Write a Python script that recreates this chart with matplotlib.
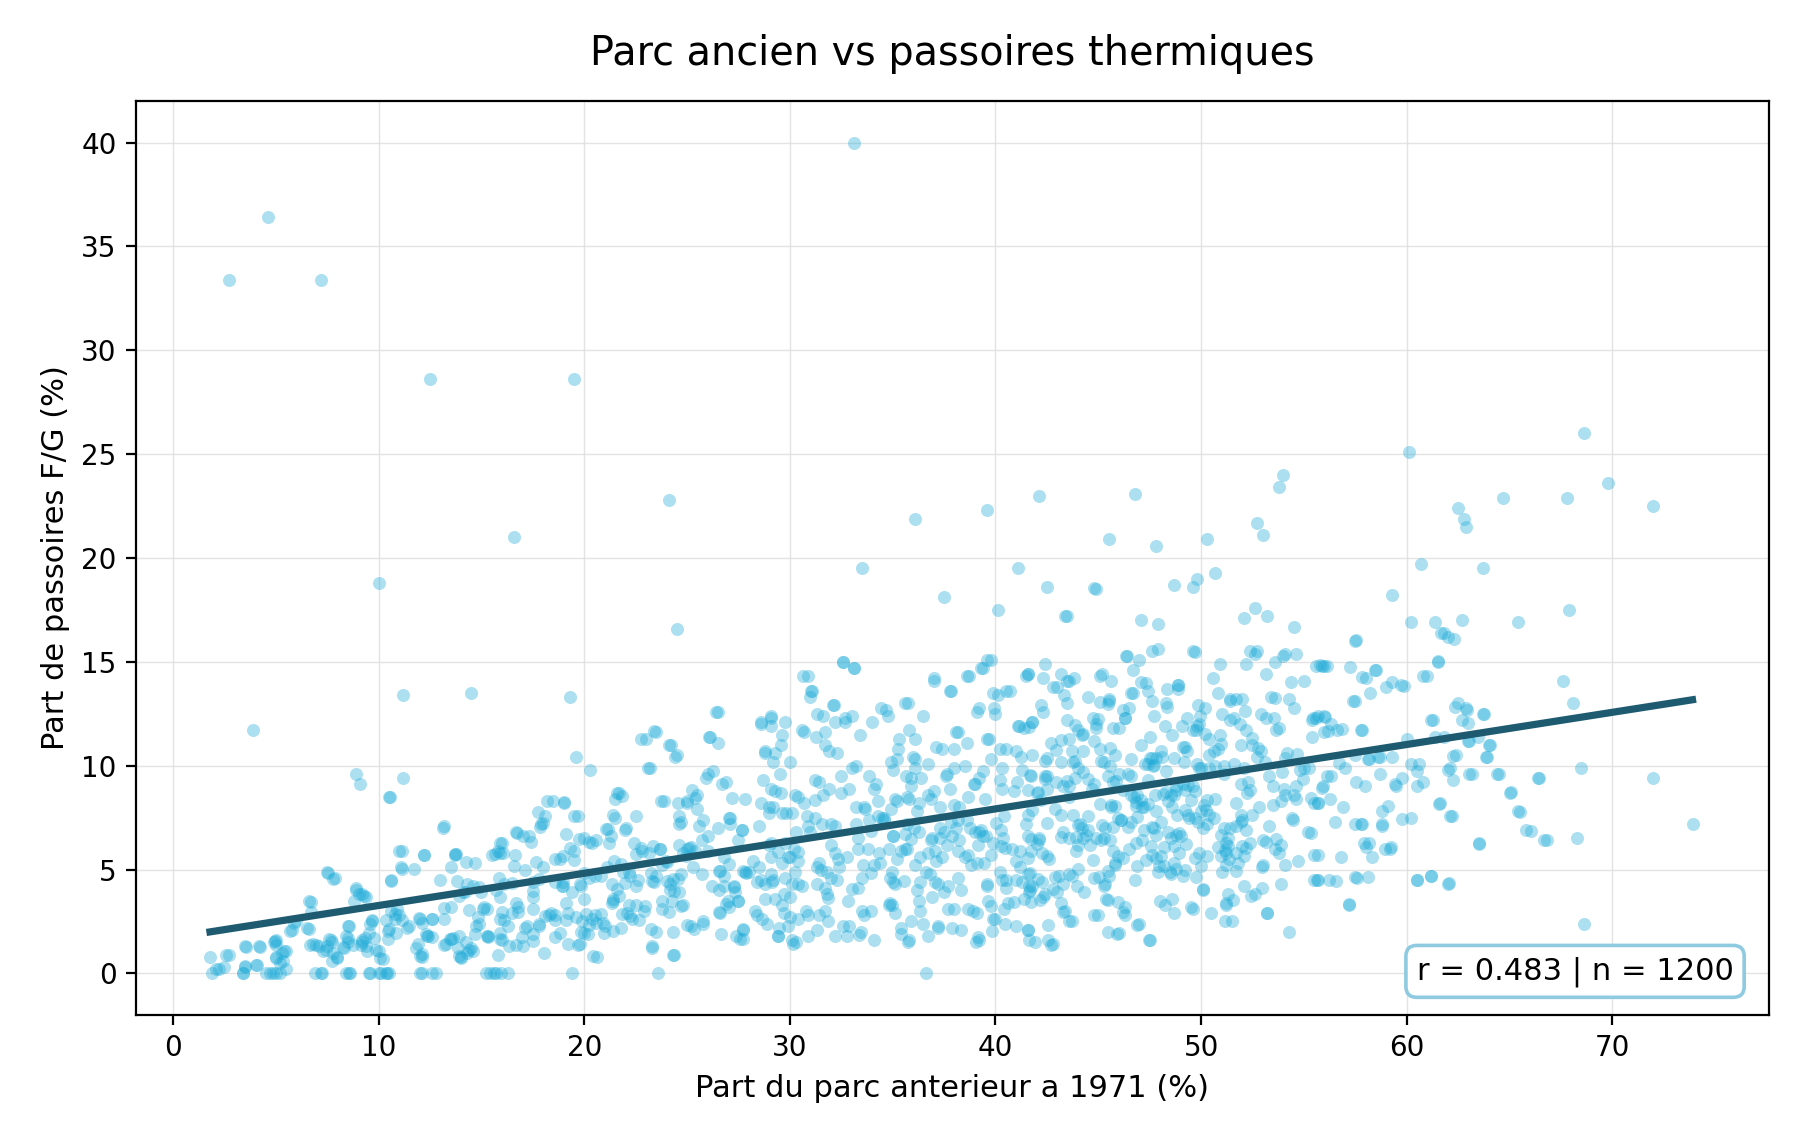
import numpy as np
import matplotlib
matplotlib.use('Agg')
import matplotlib.pyplot as plt

# points : (part parc < 1971 %, part passoires F/G %)
outliers = [
    (33.1, 40.0), (4.6, 36.4), (2.7, 33.4), (7.2, 33.4), (12.5, 28.6), (19.5, 28.6),
    (60.1, 25.1), (68.6, 26.0), (69.8, 23.6), (72.0, 22.5), (64.7, 22.9), (67.8, 22.9),
    (62.5, 22.4), (62.8, 21.9), (62.9, 21.5), (54.0, 24.0), (53.8, 23.4), (46.8, 23.1),
    (42.1, 23.0), (24.1, 22.8), (39.6, 22.3), (36.1, 21.9), (52.7, 21.7), (53.0, 21.1),
    (45.5, 20.9), (50.3, 20.9), (16.6, 21.0), (47.8, 20.6), (60.7, 19.7), (41.1, 19.5),
    (50.7, 19.3), (33.5, 19.5), (63.7, 19.5), (10.0, 18.8), (49.8, 19.0), (49.6, 18.6),
    (48.7, 18.7), (42.5, 18.6), (44.9, 18.5), (37.5, 18.1), (59.3, 18.2), (67.9, 17.5),
    (40.1, 17.5), (43.4, 17.2), (43.5, 17.2), (52.6, 17.6), (53.2, 17.2), (52.1, 17.1),
    (47.1, 17.0), (47.9, 16.8), (54.5, 16.7), (24.5, 16.6), (65.4, 16.9), (60.2, 16.9),
    (61.4, 16.9), (62.7, 17.0), (61.8, 16.4), (62.3, 16.1), (62.0, 16.2), (57.5, 16.0),
    (72.0, 9.4), (73.9, 7.2), (68.6, 2.4), (68.5, 9.9), (67.6, 14.1), (68.1, 13.0),
    (3.9, 11.7), (11.2, 13.4), (14.5, 13.5), (19.3, 13.3),
]

band_00_20 = [
    (1.8, 0.8), (1.9, 0.0), (2.5, 0.3), (2.7, 0.9), (3.4, 0.0), (3.5, 0.3), (3.5, 1.3),
    (4.1, 0.4), (4.2, 1.3), (4.5, 0.0), (4.7, 0.0), (4.9, 1.5), (5.0, 1.6), (5.0, 0.8),
    (5.2, 0.5), (5.3, 1.0), (5.5, 0.2), (5.5, 1.1), (5.0, 0.0), (5.8, 2.1), (6.0, 2.5),
    (6.6, 3.5), (6.5, 2.2), (6.8, 1.4), (6.9, 0.0), (7.1, 1.3), (7.2, 0.0), (7.5, 1.3),
    (7.5, 4.9), (7.7, 1.6), (7.8, 1.0), (7.9, 4.6), (8.0, 0.8), (8.3, 1.2), (8.4, 0.0),
    (8.5, 1.7), (8.6, 0.0), (8.5, 2.3), (8.8, 3.5), (8.9, 4.0), (8.9, 9.6), (9.1, 9.1),
    (9.2, 1.6), (9.2, 3.8), (9.4, 1.3), (9.6, 2.4), (9.6, 0.0), (9.7, 2.5), (9.8, 1.7),
    (10.0, 1.1), (10.0, 0.0), (10.2, 0.7), (9.4, 3.7), (10.4, 0.0), (10.5, 0.0), (10.5, 8.5),
    (10.6, 4.5), (10.8, 2.6), (10.9, 3.1), (11.0, 5.9), (11.1, 5.1), (11.2, 9.4), (11.0, 2.8),
    (11.5, 2.3), (11.8, 1.2), (12.0, 2.6), (12.0, 0.0), (12.1, 0.8), (12.2, 5.7), (12.4, 1.8),
    (12.6, 2.6), (12.6, 0.0), (12.8, 0.0), (13.0, 4.5), (13.2, 7.1), (13.3, 1.4), (13.5, 3.2),
    (13.5, 5.1), (13.7, 5.7), (13.9, 1.8), (14.0, 0.8), (14.2, 3.9), (14.3, 1.0), (14.3, 4.3),
    (14.5, 1.2), (14.7, 1.9), (14.7, 5.3), (14.9, 2.4), (15.0, 3.9), (15.1, 3.1), (15.2, 0.0),
    (15.3, 1.8), (15.5, 5.7), (15.6, 0.0), (15.7, 4.0), (15.8, 5.9), (15.9, 2.6), (16.0, 1.6),
    (16.0, 6.3), (16.1, 4.3), (16.3, 0.0), (16.5, 2.9), (16.7, 6.8), (16.8, 3.2), (17.0, 1.3),
    (17.1, 5.0), (17.3, 6.6), (17.5, 1.9), (17.5, 3.7), (17.8, 2.4), (17.9, 7.2), (18.0, 5.1),
    (18.1, 7.6), (18.3, 2.8), (18.5, 8.3), (18.6, 2.8), (18.8, 5.5), (18.9, 4.2), (19.0, 8.2),
    (19.1, 6.7), (19.2, 2.9), (19.4, 0.0), (19.5, 5.9), (19.6, 10.4), (19.7, 7.6), (19.8, 1.4),
    (19.8, 4.3), (19.9, 2.5), (20.0, 6.5), (20.0, 3.6),
]

band_20_40 = [
    (20.2, 1.9), (20.3, 9.8), (20.4, 6.3), (20.5, 2.8), (20.6, 0.8), (20.8, 4.7), (21.0, 2.3),
    (21.1, 5.1), (21.3, 6.6), (21.4, 3.6), (21.5, 7.5), (21.6, 8.7), (21.8, 2.2), (21.9, 4.9),
    (22.0, 6.9), (22.2, 3.3), (22.3, 2.6), (22.5, 7.6), (22.6, 4.5), (22.8, 5.9), (22.9, 3.0),
    (23.0, 11.3), (23.2, 9.9), (23.3, 1.3), (23.4, 4.4), (23.5, 11.6), (23.6, 0.0), (23.7, 6.0),
    (23.8, 3.5), (23.9, 8.3), (24.0, 5.4), (24.2, 11.0), (24.3, 2.0), (24.3, 0.9), (24.5, 10.5),
    (24.6, 7.6), (24.7, 4.8), (24.8, 3.3), (25.0, 8.2), (25.0, 6.0), (25.2, 2.3), (25.3, 5.1),
    (25.5, 8.6), (25.6, 7.1), (25.8, 2.4), (26.0, 9.6), (26.1, 11.4), (26.2, 4.2), (26.4, 12.6),
    (26.5, 7.0), (26.6, 2.9), (26.8, 5.6), (26.9, 9.2), (27.0, 3.5), (27.1, 7.5), (27.3, 4.2),
    (27.4, 1.8), (27.5, 6.4), (27.7, 2.1), (27.8, 8.4), (28.0, 4.9), (28.2, 5.4), (28.3, 3.0),
    (28.5, 7.1), (28.6, 12.0), (28.8, 10.6), (28.9, 2.4), (29.0, 6.2), (29.1, 12.3), (29.2, 4.5),
    (29.3, 8.8), (29.4, 1.8), (29.5, 9.6), (29.6, 11.5), (29.7, 3.8), (29.8, 7.7), (29.9, 5.6),
    (30.0, 2.7), (30.0, 10.2), (30.2, 6.0), (30.3, 1.5), (30.4, 8.5), (30.6, 4.2), (30.7, 11.6),
    (30.8, 3.0), (30.9, 14.3), (31.0, 6.8), (31.1, 13.6), (31.2, 7.5), (31.3, 2.1), (31.4, 9.2),
    (31.5, 5.0), (31.6, 12.4), (31.8, 3.8), (31.9, 10.7), (32.0, 6.2), (32.1, 12.9), (32.2, 1.8),
    (32.3, 4.5), (32.5, 8.7), (32.6, 15.0), (32.7, 12.3), (32.8, 5.6), (32.9, 2.3), (33.0, 9.9),
    (33.1, 14.7), (33.2, 7.2), (33.3, 4.1), (33.4, 11.5), (33.5, 3.0), (33.6, 8.0), (33.8, 6.0),
    (34.0, 12.1), (34.1, 1.6), (34.2, 9.1), (34.4, 5.3), (34.5, 7.5), (34.7, 12.7), (34.8, 3.3),
    (34.9, 10.2), (35.0, 6.6), (35.1, 4.3), (35.2, 8.3), (35.3, 11.3), (35.4, 2.2), (35.6, 13.0),
    (35.7, 6.0), (35.8, 1.6), (35.9, 9.0), (36.0, 10.4), (36.1, 5.2), (36.2, 7.8), (36.3, 3.5),
    (36.5, 12.4), (36.6, 0.0), (36.7, 8.6), (36.8, 4.8), (36.9, 6.5), (37.0, 14.1), (37.1, 10.9),
    (37.2, 2.3), (37.3, 7.0), (37.4, 5.6), (37.6, 9.5), (37.7, 3.1), (37.8, 13.6), (37.9, 6.6),
    (38.0, 8.1), (38.1, 11.6), (38.2, 4.6), (38.3, 2.1), (38.5, 10.0), (38.6, 7.4), (38.7, 14.3),
    (38.8, 5.2), (38.9, 3.0), (39.0, 9.1), (39.1, 12.6), (39.2, 1.6), (39.3, 6.9), (39.4, 14.7),
    (39.5, 8.4), (39.6, 4.2), (39.7, 11.3), (39.8, 15.1), (39.9, 6.3), (40.0, 2.6),
]

band_40_75 = [
    (40.1, 13.4), (40.2, 9.3), (40.3, 4.5), (40.4, 7.6), (40.5, 10.8), (40.6, 3.4), (40.7, 13.6),
    (40.8, 6.0), (40.9, 8.8), (41.0, 2.3), (41.1, 11.9), (41.2, 5.1), (41.3, 9.8), (41.5, 7.2),
    (41.6, 14.4), (41.7, 4.0), (41.8, 10.5), (41.9, 1.5), (42.0, 8.7), (42.1, 6.4), (42.2, 12.9),
    (42.3, 3.7), (42.4, 14.9), (42.5, 9.5), (42.6, 5.5), (42.7, 11.1), (42.8, 1.4), (42.9, 7.9),
    (43.0, 13.8), (43.1, 4.7), (43.2, 10.2), (43.3, 6.8), (43.4, 3.0), (43.5, 12.2), (43.6, 8.5),
    (43.7, 2.5), (43.8, 14.2), (43.9, 5.9), (44.0, 9.9), (44.1, 7.2), (44.2, 11.5), (44.3, 3.9),
    (44.5, 13.3), (44.6, 6.2), (44.7, 8.9), (44.8, 4.6), (44.9, 12.0), (45.0, 2.8), (45.1, 10.8),
    (45.2, 14.4), (45.3, 6.5), (45.4, 3.6), (45.5, 13.1), (45.6, 8.1), (45.7, 11.8), (45.8, 5.3),
    (45.9, 1.9), (46.0, 9.6), (46.1, 7.4), (46.2, 12.7), (46.3, 3.2), (46.4, 15.3), (46.5, 6.0),
    (46.6, 10.3), (46.7, 13.5), (46.8, 4.5), (46.9, 8.6), (47.0, 2.4), (47.1, 11.0), (47.2, 6.9),
    (47.3, 14.0), (47.4, 9.3), (47.5, 1.6), (47.6, 5.7), (47.7, 12.4), (47.8, 7.8), (47.9, 15.6),
    (48.0, 3.5), (48.1, 10.4), (48.2, 6.1), (48.3, 13.0), (48.4, 8.3), (48.5, 4.9), (48.6, 11.5),
    (48.7, 2.9), (48.8, 9.0), (48.9, 13.9), (49.0, 6.6), (49.1, 10.9), (49.2, 5.0), (49.3, 12.3),
    (49.4, 7.5), (49.5, 3.2), (49.6, 15.5), (49.7, 8.8), (49.8, 11.9), (49.9, 5.8), (50.0, 9.9),
    (50.1, 4.0), (50.2, 12.8), (50.3, 7.2), (50.4, 10.5), (50.5, 2.9), (50.6, 14.2), (50.7, 8.4),
    (50.8, 6.1), (50.9, 11.5), (51.0, 4.9), (51.1, 7.0), (51.1, 9.6), (51.2, 5.8), (51.2, 3.4),
    (51.3, 6.5), (51.4, 13.2), (51.5, 2.5), (51.6, 10.1), (51.7, 8.2), (51.8, 5.3), (51.9, 12.0),
    (52.0, 7.4), (52.1, 4.2), (52.2, 14.9), (52.3, 9.2), (52.4, 6.3), (52.5, 11.0), (52.6, 3.8),
    (52.7, 15.5), (52.8, 8.0), (52.9, 12.5), (53.0, 5.2), (53.1, 10.2), (53.2, 2.9), (53.3, 7.1),
    (53.4, 13.3), (53.5, 9.0), (53.6, 6.0), (53.8, 11.8), (53.9, 4.3), (54.0, 15.3), (54.1, 8.6),
    (54.2, 10.6), (54.3, 2.0), (54.4, 7.5), (54.5, 12.8), (54.7, 5.4), (54.8, 9.8), (55.0, 14.1),
    (55.2, 6.8), (55.4, 11.4), (55.5, 4.5), (55.6, 12.3), (55.7, 8.2), (55.9, 14.8), (56.1, 9.5),
    (56.2, 4.5), (56.3, 12.0), (56.5, 7.3), (56.6, 11.7), (56.8, 5.6), (57.0, 9.9), (57.2, 3.3),
    (57.4, 13.1), (57.5, 7.2), (57.6, 4.6), (57.8, 11.7), (57.9, 6.3), (58.0, 14.2), (58.1, 10.3),
    (58.3, 5.6), (58.5, 14.6), (58.7, 9.6), (58.8, 7.8), (59.0, 13.8), (59.2, 6.0), (59.3, 10.4),
    (59.5, 9.0), (59.7, 13.9), (60.0, 11.3), (60.2, 7.5), (60.5, 4.5), (60.6, 10.1), (60.8, 9.2),
    (61.0, 14.3), (61.2, 4.7), (61.3, 12.2), (61.5, 15.0), (61.6, 8.2), (61.8, 11.4), (62.0, 4.3),
    (62.1, 9.9), (62.2, 7.6), (62.4, 10.5), (62.5, 13.0), (62.7, 12.2), (62.9, 12.8), (63.0, 11.2),
    (63.2, 9.6), (63.5, 6.3), (63.7, 12.5), (63.9, 10.4), (64.0, 11.0), (64.5, 9.6), (65.0, 8.7),
    (65.4, 7.8), (65.8, 6.9), (66.4, 9.4), (66.7, 6.4), (68.3, 6.5),
]

# lecture fine, zone 0-14
zone_a = [
    (10.55, 8.5), (13.15, 7.0), (11.15, 5.9), (12.2, 5.7), (11.7, 5.05), (11.15, 5.05),
    (13.7, 5.75), (7.55, 4.85), (7.8, 4.55), (10.6, 4.45), (8.9, 4.1), (9.05, 3.8), (9.3, 3.75),
    (13.2, 3.15), (6.7, 3.45), (6.7, 2.95), (5.7, 2.05), (5.9, 2.45), (6.6, 2.15), (8.55, 2.3),
    (10.6, 3.0), (10.8, 2.85), (9.7, 2.55), (10.35, 2.55), (10.5, 2.15), (11.15, 2.55),
    (11.4, 2.2), (11.95, 2.65), (12.1, 2.45), (12.6, 2.6), (12.3, 1.9), (12.35, 1.8), (12.6, 1.75),
    (11.9, 1.4), (12.1, 0.95), (12.0, 0.85), (13.2, 1.35), (13.5, 1.65), (13.85, 1.2),
    (10.45, 2.05), (10.85, 1.95), (10.45, 1.65), (9.55, 1.95), (9.35, 1.7), (9.15, 1.35),
    (9.2, 1.5), (8.75, 1.35), (8.5, 1.5), (8.4, 1.8), (8.25, 1.25), (9.45, 1.1), (9.85, 1.15),
    (10.05, 0.75), (7.6, 1.65), (7.75, 1.5), (7.45, 1.15), (7.3, 1.1), (8.0, 0.75), (7.75, 0.6),
    (6.65, 1.35), (6.95, 1.35), (4.95, 1.55), (5.0, 1.35), (5.4, 1.1), (5.0, 0.75), (5.35, 0.6),
    (3.55, 1.25), (4.25, 1.25), (3.5, 0.35), (4.05, 0.4), (2.6, 0.9), (2.25, 0.2), (2.1, 0.2),
    (3.4, 0.0), (4.85, 0.0), (5.2, 0.0), (7.25, 0.0), (8.55, 0.0), (9.55, 0.0), (10.1, 0.0),
    (10.35, 0.0), (12.1, 0.0), (13.2, 2.6), (13.9, 0.85),
]

# zone 13-28
zone_b = [
    (22.75, 11.3), (23.4, 11.65), (24.1, 11.0), (24.4, 10.4), (23.1, 9.9), (26.05, 11.4),
    (26.5, 11.1), (26.5, 12.6), (25.9, 9.4), (26.25, 9.75), (26.7, 9.1), (27.2, 8.45),
    (25.25, 8.85), (25.4, 8.45), (25.0, 8.3), (24.55, 8.2), (23.75, 8.3), (25.5, 7.9),
    (24.6, 7.2), (24.7, 7.3), (25.8, 7.4), (26.0, 6.6), (25.75, 6.4), (27.05, 7.5), (27.1, 7.2),
    (27.65, 6.9), (21.7, 8.7), (21.5, 8.4), (21.85, 8.55), (21.4, 7.65), (21.15, 6.95),
    (22.05, 7.0), (18.2, 8.3), (19.0, 8.25), (19.5, 7.6), (17.75, 7.75), (18.0, 7.25),
    (17.85, 7.05), (16.75, 6.75), (17.0, 6.6), (17.4, 6.35), (15.9, 6.3), (15.65, 5.75),
    (15.9, 5.8), (16.05, 5.8), (16.65, 5.7), (13.75, 5.75), (14.25, 5.35), (16.6, 5.15),
    (17.65, 5.35), (13.8, 4.45), (13.9, 3.75), (14.1, 3.9), (14.6, 4.2), (14.9, 4.15),
    (15.85, 4.6), (15.9, 3.7), (16.5, 4.35), (16.7, 3.4), (16.8, 2.95), (17.1, 2.2),
    (14.4, 3.05), (14.85, 2.7), (14.75, 2.3), (15.25, 3.1), (16.0, 2.95), (16.1, 2.55),
    (16.3, 2.3), (15.9, 1.95), (15.9, 1.65), (16.35, 1.3), (16.7, 1.35), (16.95, 1.75),
    (15.25, 1.8), (15.3, 1.75), (14.25, 1.5), (14.4, 1.15), (14.0, 0.75), (14.6, 1.1),
    (15.8, 0.9), (15.4, 0.0), (15.7, 0.0), (15.95, 0.0), (17.2, 2.3), (17.5, 1.55), (17.8, 2.3),
    (18.05, 1.0), (17.5, 3.1), (17.5, 3.95), (18.1, 2.75), (18.4, 2.9), (18.6, 2.55),
    (18.6, 1.75), (18.8, 1.95), (19.1, 2.55), (19.2, 1.4), (19.6, 2.7), (19.7, 1.35),
    (19.85, 2.0), (20.0, 1.95), (20.1, 2.85), (20.25, 2.35), (20.4, 2.6), (20.55, 2.45),
    (20.45, 0.85), (20.8, 2.85), (20.9, 2.45), (20.95, 1.95), (21.4, 2.05), (21.35, 3.4),
    (21.4, 3.5), (21.7, 3.75), (21.85, 2.85), (22.1, 2.9), (22.25, 2.75), (22.5, 3.3),
    (22.65, 2.55), (22.95, 3.25), (23.25, 2.15), (23.5, 2.0), (23.3, 1.2), (24.35, 0.9),
    (23.8, 3.1), (24.1, 2.95), (24.15, 4.0), (24.25, 3.5), (24.7, 3.25), (25.0, 2.35),
    (25.35, 2.15), (25.8, 2.5), (26.65, 1.9), (27.6, 1.65), (27.7, 2.15), (26.55, 2.95),
    (26.9, 3.35), (27.05, 3.2), (27.5, 3.5), (26.55, 4.0), (26.8, 4.2), (27.3, 4.15),
    (27.35, 3.9), (27.7, 4.95), (27.85, 4.85), (26.55, 4.95), (26.6, 4.95), (26.8, 4.7),
    (27.05, 5.25), (25.75, 4.8), (26.0, 5.9), (25.4, 5.9), (25.1, 6.05), (24.05, 4.45),
    (24.3, 4.55), (24.55, 4.55), (24.6, 3.9), (24.35, 3.95), (23.25, 4.85), (23.3, 4.45),
    (23.5, 4.7), (23.8, 5.2), (24.15, 4.3), (22.2, 4.9), (22.25, 4.7), (22.5, 4.2),
    (22.75, 6.05), (22.4, 6.3), (22.5, 5.75), (21.05, 6.95), (21.2, 6.3), (21.45, 5.4),
    (21.8, 5.25), (22.0, 4.35), (21.6, 4.05), (21.35, 4.3), (20.55, 6.4), (20.25, 6.35),
    (19.75, 6.45), (20.0, 4.85), (20.25, 4.6), (20.5, 4.7), (19.85, 4.2), (19.4, 3.9),
    (19.1, 3.4), (18.95, 4.2), (18.6, 5.5), (18.95, 5.65), (19.3, 6.05), (19.5, 5.45),
    (18.6, 4.4), (18.95, 4.4), (17.8, 4.55), (17.5, 4.4), (15.15, 3.2), (13.45, 1.65),
    (13.6, 1.7), (23.15, 5.8), (23.35, 6.15), (23.7, 6.0), (24.05, 5.35), (24.6, 6.2),
    (25.2, 6.1), (24.8, 5.8), (24.95, 5.65),
]

# zone 27-42
zone_c = [
    (32.6, 15.0), (33.1, 14.7), (30.65, 14.3), (31.0, 13.3), (31.05, 13.6), (32.15, 12.9),
    (31.3, 12.5), (33.0, 12.4), (32.2, 12.1), (32.7, 12.1), (30.6, 11.7), (31.25, 11.4),
    (31.7, 11.6), (31.7, 11.0), (29.55, 11.0), (28.8, 10.7), (29.3, 10.6), (29.2, 10.2),
    (32.3, 10.6), (28.6, 12.1), (29.1, 12.4), (29.75, 12.1), (29.1, 11.9), (28.7, 9.3),
    (29.1, 8.9), (29.55, 8.7), (28.6, 8.2), (29.0, 8.0), (29.2, 8.0), (29.0, 7.7), (29.6, 7.7),
    (30.1, 7.7), (30.25, 8.6), (30.7, 8.2), (30.85, 7.6), (31.2, 8.35), (31.6, 8.6), (31.9, 8.9),
    (31.2, 9.3), (32.5, 9.5), (32.9, 8.9), (33.2, 10.0), (33.85, 9.5), (34.1, 8.9), (33.2, 8.0),
    (33.65, 7.9), (34.3, 8.3), (34.6, 7.5), (34.9, 7.9), (35.1, 8.4), (34.45, 12.8),
    (34.75, 12.4), (35.75, 13.0), (35.8, 11.7), (36.1, 11.3), (35.25, 10.8), (35.2, 10.3),
    (35.0, 9.8), (35.65, 9.5), (36.1, 10.3), (36.1, 9.9), (35.9, 9.4), (36.4, 9.4), (36.7, 10.1),
    (37.0, 14.2), (37.85, 13.6), (37.4, 10.8), (38.0, 10.8), (38.2, 11.6), (38.6, 11.1),
    (37.65, 9.6), (38.0, 9.9), (37.8, 8.9), (37.0, 8.8), (35.7, 8.5), (35.8, 8.4), (36.3, 8.2),
    (36.85, 8.4), (37.3, 8.0), (38.25, 8.0), (38.65, 8.5), (38.95, 9.1), (39.2, 9.4),
    (39.4, 9.75), (39.3, 14.7), (38.6, 14.3), (39.6, 15.1), (39.9, 13.5), (40.5, 13.6),
    (39.2, 12.8), (39.95, 12.8), (40.0, 12.5), (39.6, 11.3), (40.2, 10.8), (39.8, 10.3),
    (40.3, 9.9), (40.3, 8.9), (41.0, 10.7), (41.25, 10.4), (41.05, 9.2), (41.5, 14.3),
    (41.15, 11.9), (41.4, 11.8), (41.8, 12.1), (41.7, 9.55), (27.65, 6.9), (27.5, 3.5),
    (27.7, 1.65), (27.8, 4.9), (28.5, 5.1), (28.6, 4.5), (29.1, 4.8), (29.15, 4.4), (28.4, 4.4),
    (28.8, 4.3), (28.8, 3.6), (29.3, 3.6), (29.6, 3.3), (29.7, 2.9), (28.4, 2.8), (28.65, 2.6),
    (29.45, 2.2), (29.4, 1.8), (29.9, 2.3), (30.1, 1.6), (30.15, 1.4), (30.4, 2.6), (30.9, 1.8),
    (30.9, 2.8), (31.4, 2.8), (31.7, 3.0), (31.85, 2.5), (30.0, 3.7), (30.1, 4.3), (30.25, 4.9),
    (30.4, 4.3), (29.75, 4.6), (30.0, 5.6), (30.4, 5.85), (30.4, 5.4), (31.3, 5.1), (31.4, 5.3),
    (31.8, 4.9), (32.0, 4.6), (31.3, 4.3), (31.7, 4.1), (31.85, 3.65), (32.2, 5.8), (32.35, 5.5),
    (32.4, 5.1), (32.85, 3.5), (33.0, 4.05), (32.6, 2.3), (32.8, 1.8), (33.35, 1.85),
    (33.45, 2.0), (33.6, 2.8), (33.95, 3.0), (33.3, 6.0), (33.3, 6.5), (33.55, 5.2),
    (33.95, 4.85), (34.1, 5.2), (33.5, 4.6), (34.35, 5.8), (34.8, 6.0), (34.95, 4.9), (35.0, 4.4),
    (34.85, 4.6), (34.85, 3.4), (34.95, 3.3), (35.1, 2.9), (35.55, 4.45), (35.0, 6.6),
    (35.2, 5.5), (35.4, 5.9), (35.6, 6.0), (35.9, 6.45), (35.9, 2.5), (36.5, 2.4), (36.7, 1.8),
    (35.4, 1.9), (35.75, 1.5), (36.35, 3.0), (36.2, 4.0), (36.6, 4.9), (36.35, 4.4), (37.05, 4.4),
    (37.2, 4.3), (36.9, 3.7), (37.5, 3.9), (37.7, 4.2), (38.3, 4.0), (37.2, 2.2), (37.9, 2.2),
    (38.0, 3.1), (38.65, 3.1), (39.1, 2.9), (39.05, 1.5), (39.15, 1.75), (39.6, 4.3),
    (39.65, 3.5), (39.8, 3.25), (39.9, 2.6), (39.85, 2.05), (40.45, 2.4), (40.4, 3.1),
    (40.2, 4.9), (40.5, 4.5), (40.5, 4.1), (40.9, 3.45), (41.0, 4.5), (41.3, 4.4), (41.65, 4.2),
    (41.7, 4.85), (41.6, 2.1), (41.65, 1.6), (41.4, 3.6), (36.35, 5.6), (36.7, 5.8), (37.05, 5.9),
    (37.1, 5.4), (36.85, 6.4), (37.3, 6.5), (37.65, 6.2), (37.5, 6.8), (38.1, 7.0), (38.25, 6.4),
    (38.5, 5.6), (38.65, 5.7), (38.2, 5.9), (39.1, 5.3), (39.45, 5.3), (39.15, 6.2), (39.4, 6.6),
    (39.8, 5.7), (40.35, 6.5), (40.25, 6.15), (40.05, 7.25), (40.25, 6.9), (40.45, 6.05),
    (41.0, 5.4), (41.2, 5.9), (41.6, 6.6), (41.75, 6.45), (31.55, 7.2), (32.0, 7.2), (32.2, 7.1),
    (30.9, 7.1), (30.3, 6.8), (29.75, 6.3), (29.4, 5.85), (29.1, 6.3), (29.1, 5.6), (29.6, 5.3),
    (33.85, 7.4), (34.3, 7.6), (34.6, 7.4), (33.95, 6.85), (35.7, 7.2), (36.05, 7.0),
    (36.3, 6.8), (35.6, 6.7), (37.85, 7.3), (38.2, 7.4), (38.75, 7.0), (39.0, 6.8), (39.2, 6.8),
    (39.55, 6.6),
]

# zone 41-56
zone_d = [
    (44.8, 18.55), (46.35, 15.3), (47.0, 15.1), (47.6, 15.5), (46.7, 14.6), (49.7, 15.45),
    (50.9, 14.9), (52.4, 15.5), (52.6, 15.4), (53.6, 15.0), (54.1, 15.4), (54.6, 15.4),
    (55.6, 14.8), (56.0, 14.8), (53.15, 14.4), (41.6, 14.4), (42.3, 14.2), (42.8, 13.8),
    (43.2, 14.4), (43.5, 14.1), (43.6, 14.1), (43.35, 13.4), (43.5, 13.0), (45.1, 14.3),
    (45.6, 14.1), (45.1, 13.05), (45.5, 13.2), (45.45, 12.95), (47.1, 14.05), (47.4, 13.6),
    (47.6, 13.1), (46.6, 13.5), (46.5, 12.8), (46.3, 12.3), (48.35, 13.7), (48.9, 13.9),
    (48.9, 13.7), (48.35, 12.85), (49.85, 12.9), (50.8, 13.5), (51.4, 13.1), (51.7, 13.2),
    (52.0, 13.2), (52.15, 12.65), (51.6, 12.3), (51.0, 12.5), (49.95, 12.4), (49.9, 12.0),
    (49.6, 11.7), (49.75, 11.7), (50.2, 11.55), (50.4, 11.3), (50.65, 10.7), (50.8, 10.8),
    (50.95, 11.05), (49.2, 10.9), (49.3, 10.7), (49.05, 11.9), (48.25, 11.9), (47.5, 11.4),
    (48.05, 10.7), (47.6, 10.35), (47.4, 10.1), (47.7, 10.05), (48.3, 9.75), (48.7, 10.35),
    (49.15, 10.2), (49.8, 10.1), (49.9, 9.9), (50.4, 9.9), (50.7, 10.0), (51.1, 10.0),
    (51.95, 11.0), (52.2, 11.7), (52.5, 11.35), (52.75, 10.85), (52.9, 10.7), (52.7, 10.4),
    (51.4, 12.2), (53.6, 13.25), (54.3, 13.2), (54.35, 14.05), (53.15, 12.3), (53.55, 12.3),
    (53.65, 11.7), (54.65, 10.55), (54.1, 10.35), (55.0, 9.9), (55.25, 9.9), (55.4, 12.2),
    (55.45, 12.3), (56.0, 12.4), (56.0, 11.6), (53.3, 9.5), (53.95, 9.7), (52.1, 9.9),
    (51.95, 9.1), (52.25, 8.7), (52.4, 8.85), (54.05, 8.9), (54.6, 9.0), (54.95, 9.35),
    (54.6, 8.4), (54.5, 8.6), (53.5, 8.1), (53.9, 8.3), (55.35, 8.45), (55.5, 8.2), (55.9, 8.95),
    (52.5, 7.65), (54.45, 7.4), (55.35, 6.75), (55.5, 5.7), (55.65, 4.5), (54.1, 5.2),
    (53.8, 5.8), (53.65, 6.45), (53.9, 6.2), (53.0, 6.4), (53.15, 6.35), (52.95, 5.1),
    (52.95, 4.1), (52.45, 3.75), (53.2, 2.9), (51.2, 3.3), (51.55, 3.55), (51.3, 3.8),
    (51.15, 2.5), (50.1, 4.05), (49.6, 3.1), (48.25, 3.3), (48.6, 3.6), (50.95, 6.65),
    (51.2, 6.3), (51.15, 5.95), (51.3, 6.15), (50.95, 5.65), (51.35, 5.5), (51.2, 5.2),
    (51.7, 4.95), (52.0, 6.15), (52.1, 5.65), (51.7, 5.8), (52.2, 6.05), (51.95, 7.65),
    (51.7, 7.1), (51.4, 7.0), (51.95, 7.3), (52.2, 6.9), (50.4, 7.65), (50.65, 7.5),
    (50.25, 7.85), (50.15, 8.1), (50.3, 8.35), (50.0, 7.8), (49.85, 7.3), (50.1, 7.0), (49.7, 7.5),
    (49.2, 7.85), (49.35, 7.65), (48.85, 7.65), (49.5, 8.35), (48.6, 8.0), (48.05, 7.3),
    (47.7, 7.0), (47.6, 7.05), (47.8, 6.65), (48.4, 6.8), (48.55, 6.5), (48.8, 6.65),
    (48.95, 6.75), (48.7, 6.15), (49.25, 6.25), (48.95, 5.8), (48.05, 5.65), (47.8, 5.55),
    (47.95, 5.15), (47.9, 4.9), (48.2, 5.15), (48.55, 4.8), (48.8, 5.05), (49.1, 4.7),
    (48.7, 5.3), (49.7, 5.55), (50.0, 5.15), (50.3, 5.65), (49.75, 4.65), (47.3, 5.45),
    (46.9, 5.15), (47.15, 6.4), (46.85, 6.3), (47.55, 6.15), (47.4, 8.15), (46.85, 8.05),
    (47.2, 8.0), (46.9, 7.55), (46.6, 7.3), (46.45, 7.05), (46.1, 7.4), (45.95, 7.5),
    (45.7, 7.05), (45.35, 7.0), (45.2, 7.15), (45.1, 8.15), (45.6, 8.0), (45.8, 8.05),
    (45.7, 5.9), (45.95, 5.65), (46.2, 5.55), (45.8, 5.2), (45.45, 4.95), (45.5, 4.7),
    (45.05, 4.65), (45.3, 4.2), (45.35, 4.3), (44.75, 5.45), (45.15, 6.4), (44.9, 6.5),
    (45.55, 6.4), (45.45, 3.55), (45.95, 3.45), (46.2, 2.95), (46.3, 2.8), (44.8, 2.8),
    (45.45, 2.0), (46.0, 1.95), (46.9, 2.35), (47.45, 1.6), (44.0, 7.15), (44.2, 7.0),
    (44.4, 6.65), (44.25, 6.5), (43.9, 6.55), (44.0, 6.2), (44.5, 6.9), (43.2, 6.55), (43.6, 6.5),
    (43.75, 7.65), (43.2, 7.65), (44.5, 7.6), (44.0, 5.05), (43.6, 4.8), (43.7, 4.7), (43.95, 4.2),
    (43.3, 4.3), (42.9, 4.65), (43.0, 3.9), (42.8, 4.05), (43.2, 3.4), (43.3, 2.95), (43.6, 2.5),
    (42.25, 4.4), (42.4, 3.8), (42.05, 4.55), (41.8, 4.2), (42.15, 3.55), (41.6, 4.8),
    (41.65, 3.9), (41.75, 3.45), (41.6, 2.1), (42.55, 2.35), (42.55, 1.6), (42.7, 1.35),
    (42.1, 6.5), (42.0, 6.25), (42.25, 5.8), (42.5, 5.65), (41.75, 5.9), (41.6, 5.55),
    (42.5, 7.25), (41.6, 7.65), (41.8, 7.85), (41.6, 8.85), (42.05, 8.75), (42.2, 8.35),
    (42.4, 9.5), (41.75, 9.5), (42.4, 9.35), (42.5, 8.9), (42.95, 9.2), (43.3, 9.0), (43.6, 9.0),
    (43.5, 9.25), (43.85, 9.4), (44.25, 9.7), (44.5, 9.35), (44.8, 9.1), (43.7, 10.7),
    (44.25, 10.7), (43.85, 10.25), (43.75, 10.2), (42.4, 10.25), (42.5, 10.35), (43.2, 11.25),
    (43.6, 11.3), (42.95, 10.75), (43.85, 11.95), (44.0, 11.7), (44.25, 11.55), (42.3, 12.6),
    (41.8, 12.1), (41.65, 11.85), (44.75, 12.3), (45.0, 12.25), (44.9, 11.8), (44.8, 11.2),
    (46.0, 11.8), (46.3, 12.3), (45.55, 10.85), (45.8, 10.5), (45.15, 10.25), (45.3, 10.2),
    (45.55, 10.0), (45.45, 9.5), (45.85, 9.25), (45.7, 9.2), (46.45, 9.6), (46.6, 9.5),
    (46.2, 8.85), (46.6, 8.6), (46.75, 8.5), (46.85, 8.25), (47.15, 8.0), (47.1, 8.35),
    (47.25, 10.1), (47.5, 10.35), (47.65, 10.0), (47.8, 10.35), (47.75, 8.6), (48.15, 8.65),
    (48.3, 8.75), (48.55, 8.6), (48.7, 8.6), (48.8, 8.85), (49.1, 9.1), (49.2, 8.85),
    (49.35, 9.05), (49.6, 9.0),
]

# zone 55-75
zone_e = [
    (61.65, 16.4), (57.55, 16.05), (61.5, 15.05), (55.8, 14.85), (56.1, 14.8), (57.25, 14.75),
    (58.45, 14.6), (57.85, 14.25), (59.3, 14.05), (59.85, 13.85), (60.8, 14.3), (58.2, 13.5),
    (57.5, 13.1), (62.35, 12.85), (62.95, 12.7), (63.75, 12.5), (55.7, 12.4), (56.05, 12.35),
    (61.2, 12.2), (63.0, 12.05), (56.15, 11.65), (56.85, 11.75), (57.85, 11.7), (61.4, 11.4),
    (63.45, 11.4), (63.05, 11.2), (64.05, 11.0), (63.85, 10.4), (62.25, 10.45), (57.5, 10.5),
    (58.15, 10.3), (58.6, 10.4), (58.7, 10.4), (56.7, 10.15), (60.2, 10.1), (60.5, 9.75),
    (62.0, 9.8), (62.25, 9.3), (63.05, 9.6), (64.4, 9.6), (66.45, 9.4), (56.3, 9.5), (55.95, 9.0),
    (55.7, 8.2), (56.25, 8.4), (56.9, 8.0), (57.55, 9.2), (57.95, 9.0), (59.45, 9.1),
    (59.75, 9.4), (60.5, 9.0), (59.1, 8.05), (59.75, 7.45), (61.55, 8.15), (62.1, 7.6),
    (65.05, 8.75), (65.5, 7.75), (66.05, 6.85), (66.8, 6.4), (63.5, 6.25), (57.8, 7.2),
    (57.85, 7.2), (58.8, 7.2), (58.8, 7.1), (58.15, 6.3), (58.0, 6.1), (58.95, 6.0), (59.25, 6.1),
    (55.7, 5.7), (55.7, 4.5), (56.55, 4.45), (57.5, 4.65), (58.1, 4.65), (60.5, 4.5),
    (61.2, 4.7), (62.05, 4.35), (57.2, 3.35),
]

# droite de tendance
pente = 0.155
ordonnee = 1.72
stat_r = 0.483
stat_n = 1200

pts = outliers + band_00_20 + band_20_40 + band_40_75 + zone_a + zone_b + zone_c + zone_d + zone_e
x = np.array([p[0] for p in pts])
y = np.array([p[1] for p in pts])

fig = plt.figure(figsize=(9.005, 5.72), dpi=200)
ax = fig.add_axes([0.0755, 0.1128, 0.9065, 0.7989])

ax.scatter(x, y, s=22, c='#1aa9d8', alpha=0.36, linewidths=0, zorder=2)

xs = np.array([x.min(), x.max()])
ax.plot(xs, pente * xs + ordonnee, color='#1e5a70', linewidth=2.6, zorder=3)

ax.set_xlim(-1.8, 77.6)
ax.set_ylim(-2, 42)
ax.set_xticks(np.arange(0, 71, 10))
ax.set_yticks(np.arange(0, 41, 5))
ax.grid(True, color='#dddddd', linewidth=0.5, alpha=0.8)
ax.set_axisbelow(True)
ax.tick_params(labelsize=10)

ax.set_title('Parc ancien vs passoires thermiques', fontsize=14.3, pad=13)
ax.set_xlabel('Part du parc anterieur a 1971 (%)', fontsize=11)
ax.set_ylabel('Part de passoires F/G (%)', fontsize=11)

ax.text(0.9785, 0.031, f'r = {stat_r:.3f} | n = {stat_n}', transform=ax.transAxes,
        ha='right', va='bottom', fontsize=11,
        bbox=dict(boxstyle='round,pad=0.35', facecolor='white', edgecolor='#8ecae0', linewidth=1.3))

fig.savefig('out.png', dpi=200)
